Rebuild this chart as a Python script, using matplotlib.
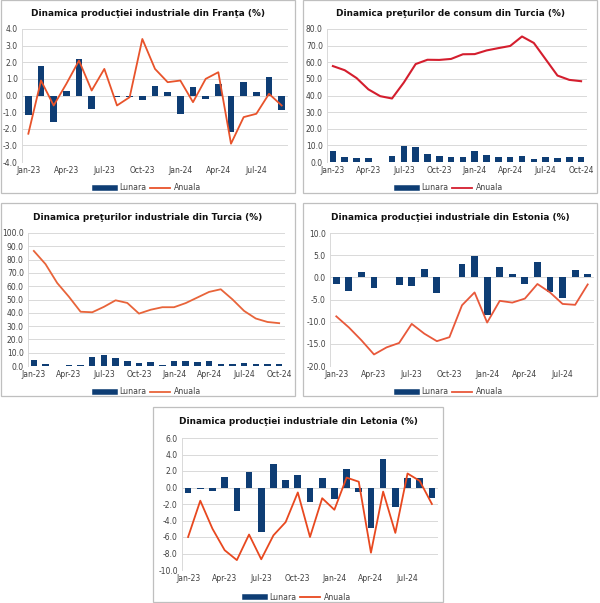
import matplotlib
matplotlib.use("Agg")
import matplotlib.pyplot as plt
from matplotlib.patches import Rectangle
from matplotlib.lines import Line2D
from matplotlib.ticker import FormatStrFormatter, MultipleLocator
from matplotlib import font_manager

months_21 = ["Jan-23", "Feb-23", "Mar-23", "Apr-23", "May-23", "Jun-23", "Jul-23", "Aug-23",
             "Sep-23", "Oct-23", "Nov-23", "Dec-23", "Jan-24", "Feb-24", "Mar-24", "Apr-24",
             "May-24", "Jun-24", "Jul-24", "Aug-24", "Sep-24"]
months_22 = months_21 + ["Oct-24"]

# France industrial production
fr_lunara = [-1.2, 1.8, -1.6, 0.3, 2.2, -0.8, 0.0, -0.1, -0.1, -0.3, 0.6, 0.2,
             -1.1, 0.5, -0.2, 0.7, -2.2, 0.8, 0.2, 1.1, -0.9]
fr_anuala = [-2.3, 0.9, -0.6, 0.7, 2.1, 0.3, 1.6, -0.6, -0.1, 3.4, 1.6, 0.8,
             0.9, -0.4, 1.0, 1.4, -2.9, -1.3, -1.1, 0.1, -0.6]

# Turkey consumer prices
tc_lunara = [6.6, 3.2, 2.3, 2.4, 0.0, 3.9, 9.5, 9.1, 4.8, 3.4, 3.3, 2.9,
             6.7, 4.5, 3.2, 3.2, 3.4, 1.6, 3.2, 2.5, 3.0, 2.9]
tc_anuala = [57.7, 55.2, 50.5, 43.7, 39.6, 38.2, 47.8, 58.9, 61.5, 61.4, 62.0, 64.8,
             64.9, 67.1, 68.5, 69.8, 75.5, 71.6, 61.8, 52.0, 49.4, 48.6]

# Turkey industrial prices
ti_lunara = [4.2, 1.6, 0.3, 0.8, 0.7, 6.5, 8.2, 5.9, 3.4, 1.9, 2.8, 1.0,
             4.1, 3.9, 3.3, 3.8, 1.7, 1.4, 1.9, 1.7, 1.4, 1.3]
ti_anuala = [86.5, 76.6, 62.4, 52.1, 40.8, 40.4, 44.5, 49.4, 47.4, 39.4, 42.3, 44.2,
             44.2, 47.3, 51.5, 55.7, 57.7, 50.1, 41.4, 35.7, 33.1, 32.2]

# Estonia industrial production
ee_lunara = [-1.5, -3.1, 1.2, -2.4, 0.1, -1.8, -2.0, 1.8, -3.6, 0.0, 3.1, 4.7,
             -8.4, 2.3, 0.7, -1.4, 3.4, -3.4, -4.6, 1.6, 0.8]
ee_anuala = [-8.8, -11.3, -14.2, -17.4, -15.8, -14.8, -10.5, -12.7, -14.4, -13.5, -6.3, -3.4,
             -10.2, -5.3, -5.7, -4.8, -1.5, -3.4, -6.0, -6.2, -1.6]

# Latvia industrial production
lv_lunara = [-0.7, -0.2, -0.4, 1.3, -2.9, 1.9, -5.4, 2.9, 0.9, 1.5, -1.7, 1.2,
             -1.4, 2.2, -0.5, -4.9, 3.4, -2.4, 1.2, 1.2, -1.3]
lv_anuala = [-6.0, -1.6, -5.0, -7.6, -8.8, -5.7, -8.7, -5.8, -4.2, -0.6, -6.0, -1.3,
             -2.7, 1.2, 0.7, -7.9, -0.5, -5.5, 1.7, 0.8, -2.0]

legend_labels = ["Lunara", "Anuala"]

names = {f.name for f in font_manager.fontManager.ttflist}
TITLE_FONT = "Liberation Sans Narrow" if "Liberation Sans Narrow" in names else "DejaVu Sans"
TITLE_SIZE = 7.8 if TITLE_FONT == "Liberation Sans Narrow" else 6.4

W, H = 600, 603
fig = plt.figure(figsize=(W / 100, H / 100), dpi=100)
fig.patch.set_facecolor("white")

BAR = "#0E3D74"
GRID = "#D9D9D9"
TXT = "#404040"


def fx(x):
    return x / W


def fy(y):
    return 1 - y / H


def panel(box, plot, title, title_y, legend_y, months, lunara, anuala, ylim, ystep,
          line_color, line_w=1.3):
    bl, bt, br, bb = box
    fig.patches.append(Rectangle((fx(bl), fy(bb)), fx(br) - fx(bl), fy(bt) - fy(bb),
                                 transform=fig.transFigure, fill=False,
                                 edgecolor="#BFBFBF", lw=0.9))
    l, t, r, b = plot
    ax = fig.add_axes([fx(l), fy(b), fx(r) - fx(l), fy(t) - fy(b)])
    x = list(range(len(months)))
    ax.bar(x, lunara, width=0.55, color=BAR, zorder=2)
    ax.plot(x, anuala, color=line_color, lw=line_w, zorder=3)
    ax.set_xlim(-0.5, len(months) - 0.5)
    ax.set_ylim(*ylim)
    ax.yaxis.set_major_locator(MultipleLocator(ystep))
    ax.yaxis.set_major_formatter(FormatStrFormatter("%.1f"))
    ticks = list(range(0, len(months), 3))
    ax.set_xticks(ticks)
    ax.set_xticklabels([months[i] for i in ticks])
    ax.tick_params(axis="both", labelsize=5.5, colors=TXT, length=0, pad=3)
    ax.grid(axis="y", color=GRID, lw=0.7, zorder=0)
    ax.set_axisbelow(True)
    for s in ["top", "right", "bottom"]:
        ax.spines[s].set_visible(False)
    ax.spines["left"].set_color(GRID)
    ax.spines["left"].set_linewidth(0.7)
    cx = (bl + br) / 2
    fig.text(fx(cx), fy(title_y), title, ha="center", va="center", fontsize=TITLE_SIZE,
             fontweight="bold", color="#111111", family=TITLE_FONT)
    handles = [Line2D([0], [0], color=BAR, lw=4), Line2D([0], [0], color=line_color, lw=1.3)]
    fig.legend(handles, legend_labels, loc="center", bbox_to_anchor=(fx(cx), fy(legend_y)),
               ncol=2, frameon=False, fontsize=5.6, handlelength=2.6, columnspacing=0.5,
               handletextpad=0.5, labelcolor=TXT)
    return ax


panel((1, 0, 295, 193), (22, 29, 288, 162),
      "Dinamica producţiei industriale din Franţa (%)", 14, 188,
      months_21, fr_lunara, fr_anuala, (-4, 4), 1, "#E8532B")

panel((303, 0, 597, 193), (327, 29, 587, 162),
      "Dinamica preţurilor de consum din Turcia (%)", 14, 188,
      months_22, tc_lunara, tc_anuala, (0, 80), 10, "#D41E2E", 1.5)

panel((1, 203, 295, 396), (28, 233, 285, 366),
      "Dinamica preţurilor industriale din Turcia (%)", 217, 392,
      months_22, ti_lunara, ti_anuala, (0, 100), 10, "#E8643A")

panel((303, 203, 597, 396), (330, 233, 594, 366),
      "Dinamica producţiei industriale din Estonia (%)", 217, 392,
      months_21, ee_lunara, ee_anuala, (-20, 10), 5, "#E8583A")

panel((153, 407, 443, 602), (182, 438, 438, 570),
      "Dinamica producţiei industriale din Letonia (%)", 422, 597,
      months_21, lv_lunara, lv_anuala, (-10, 6), 2, "#E8481F")

fig.savefig("out.png", dpi=100, facecolor="white")
